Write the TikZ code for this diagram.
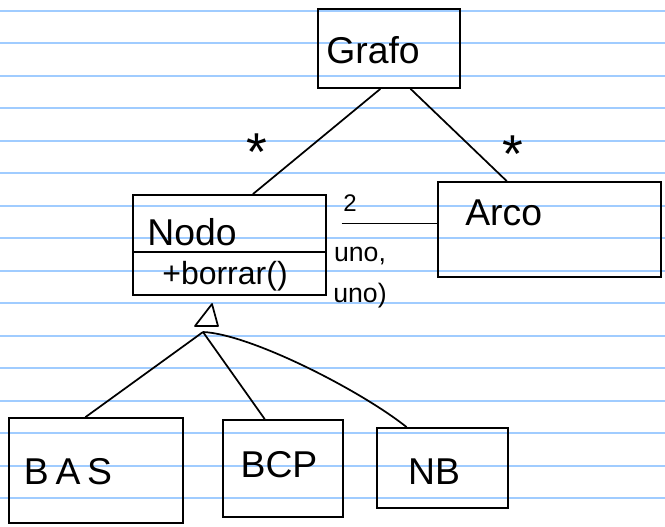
\documentclass[tikz,border=0pt]{standalone}
\usepackage{fontspec}
\setmainfont{Liberation Sans}
\usepackage{tikz}
\usetikzlibrary{fit,calc}

\tikzset{
  ruled/.style={draw={rgb, 255:red, 160; green, 204; blue, 255 }, line width=1.5pt},
  umlbox/.style={draw, line width=1.3pt, inner sep=0pt},
  conn/.style={line width=1.3pt, line join=round},
  hand/.style={inner sep=0.75pt, font=\fontsize{28}{32}\selectfont},
  mult/.style={inner sep=0.75pt, font=\fontsize{20}{22}\selectfont},
  star/.style={inner sep=0pt, anchor=north, font=\fontsize{40}{40}\selectfont}
}

\begin{document}
\begin{tikzpicture}[x=0.75pt,y=0.75pt,yscale=-1,xscale=1]
        \useasboundingbox (0,0) rectangle (665,526);
        \fill [white] (0,0) rectangle (665,526);

        %Ruled paper
        \foreach \k in {0,...,15}
          \draw [ruled] (0,{10.8+32.5*\k}) -- (665,{10.8+32.5*\k});

        %Shape: Boxes
        \node [umlbox, fit={(318,9) (460,88)}] (grafo) {};
        \node [umlbox, fit={(133,195) (326,252)}] (nodo) {};
        \node [umlbox, fit={(133,252) (326,295)}] (nodoOps) {};
        \node [umlbox, fit={(438,182) (661,277)}] (arco) {};
        \node [umlbox, fit={(9,418) (183,523)}] (bas) {};
        \node [umlbox, fit={(223,420) (343,517)}] (bcp) {};
        \node [umlbox, fit={(377,428) (508,508)}] (nb) {};

        % Text Node
        \node [hand] (grafoName) at (373,50) {Grafo};
        % Text Node
        \node [hand] (nodoName) at (192,232) {Nodo};
        % Text Node
        \node [hand, font=\fontsize{24}{26}\selectfont] (nodoOp) at (225,276) {+borrar()};
        % Text Node
        \node [hand, anchor=west] (arcoName) at (464,213) {Arco};
        % Text Node
        \node [hand] (basName) at (68,472) {B\hspace{5pt}A\hspace{5pt}S};
        % Text Node
        \node [hand] (bcpName) at (279,465) {BCP};
        % Text Node
        \node [hand] (nbName) at (434,472) {NB};

        % Text Node
        \node [mult, font=\fontsize{18}{20}\selectfont] (multTwo) at (350,203) {2};
        % Text Node
        \node [mult] (unoA) at (360,256) {uno,};
        % Text Node
        \node [mult] (unoB) at (360,296) {uno)};
        % Text Node
        \node [star] (starL) at (257,134) {*};
        % Text Node
        \node [star] (starR) at (513,136) {*};

        %Straight Lines: associations
        \draw [conn] ($(grafo.south west)!0.44!(grafo.south east)$) -- ($(nodo.north west)!0.62!(nodo.north east)$);
        \draw [conn] ($(grafo.south west)!0.65!(grafo.south east)$) -- ($(arco.north west)!0.31!(arco.north east)$);
        \draw [conn, shorten <=11pt] (nodo.east) -- (nodo.east -| arco.west);

        %Shape: generalisation
        \draw [conn] (212,304) -- (195,326) -- (218,326) -- cycle ;
        \coordinate (gen) at (203,332);
        \draw [conn] (gen) -- ($(bas.north west)!0.44!(bas.north east)$);
        \draw [conn] (gen) -- ($(bcp.north west)!0.35!(bcp.north east)$);
        \draw [conn] (gen) .. controls (250,334) and (360,390) .. ($(nb.north west)!0.23!(nb.north east)$);

\end{tikzpicture}
\end{document}
